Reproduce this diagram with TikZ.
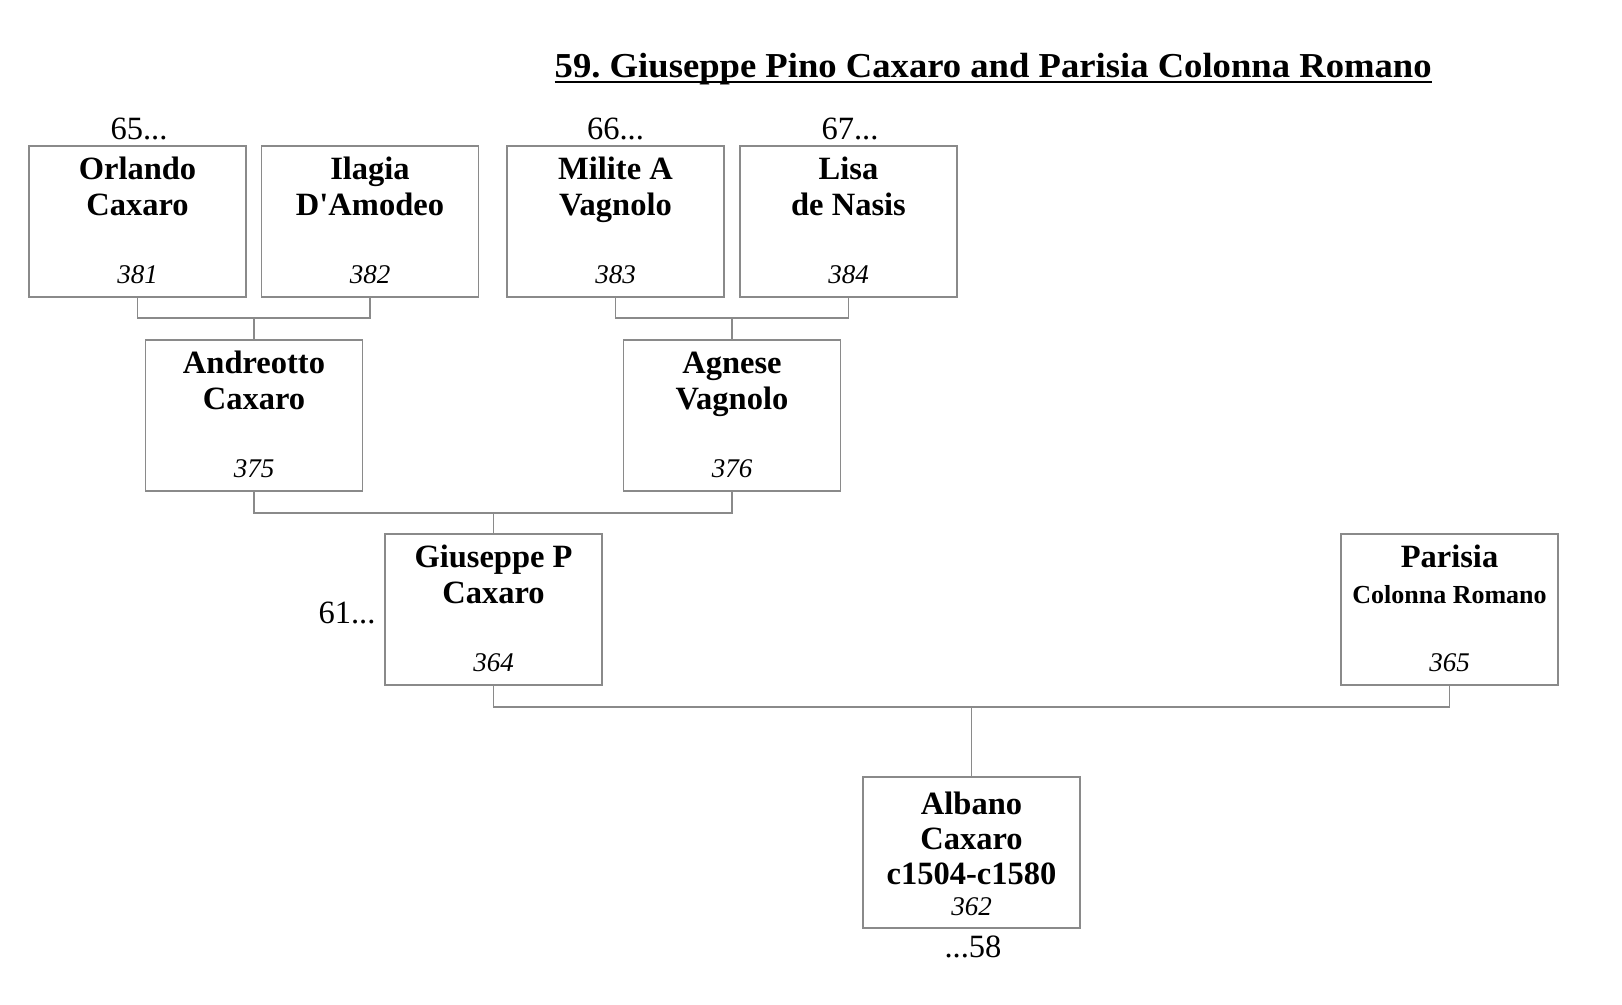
\documentclass[tikz,border=0pt]{standalone}
\usepackage{fontspec}
\usepackage{graphicx}
\setmainfont{Liberation Serif}
\usetikzlibrary{calc}
\definecolor{ln}{RGB}{138,138,138}
\newsavebox\ttlbox
\newlength\ttlwd
\newcommand\ttltext{\frenchspacing\fontsize{35}{40}\selectfont\bfseries 59. Giuseppe Pino Caxaro and Parisia Colonna Romano}
\AtBeginDocument{%
  \sbox\ttlbox{\ttltext}%
  \global\ttlwd=\wd\ttlbox
}
\newcommand\personbox[6]{%
  \node[pbox] (#1) at (#2,#3+75.5) {};
  \node[nm] at ($(#1.north)+(0,34.5)$) {#4};
  \node[nm] at ($(#1.north)+(0,70.3)$) {#5};
  \node[numf] at ($(#1.north)+(0,138.3)$) {#6};
}
\tikzset{
  pbox/.style={draw=ln, line width=1.5pt, rectangle, minimum width=217pt, minimum height=151pt, inner sep=0pt},
  nm/.style={anchor=base, inner sep=0pt, font=\fontsize{32.5}{38}\selectfont\bfseries},
  numf/.style={anchor=base, inner sep=0pt, font=\fontsize{27}{32}\selectfont\itshape},
  ref/.style={anchor=base, inner sep=0pt, font=\fontsize{32.5}{38}\selectfont},
  conn/.style={draw=ln, line width=1.5pt},
}
\begin{document}
\begin{tikzpicture}[x=1pt,y=-1pt]
\useasboundingbox[fill=white] (0,0) rectangle (1622,1004);
\pgfmathsetmacro\tscale{877/\the\ttlwd}
\node[anchor=base west, inner sep=0pt] (title) at (554.5,77) {\scalebox{\tscale}[1]{\ttltext}};
\draw[line width=2pt] ($(title.base west)+(0,5)$) -- ($(title.base east)+(0,5)$);

% row 1
\personbox{orl}{137.5}{146}{Orlando}{Caxaro}{381}
\personbox{ila}{370}{146}{Ilagia}{D\textquotesingle Amodeo}{382}
\personbox{mil}{615.5}{146}{Milite A}{Vagnolo}{383}
\personbox{lis}{848.5}{146}{Lisa}{de Nasis}{384}
\node[ref] (r65) at (139,139) {65...};
\node[ref] (r66) at (615.5,139) {66...};
\node[ref] (r67) at (850,139) {67...};

% row 2
\personbox{and}{254}{340}{Andreotto}{Caxaro}{375}
\personbox{agn}{732}{340}{Agnese}{Vagnolo}{376}

% row 3
\personbox{giu}{493.5}{534}{Giuseppe P}{Caxaro}{364}
\personbox{par}{1449.5}{534}{Parisia}{\fontsize{26}{30}\selectfont Colonna Romano}{365}
\node[ref] (r61) at (347,623) {61...};

% child
\node[pbox] (alb) at (971.5,852.5) {};
\node[nm] at ($(alb.north)+(0,38)$) {Albano};
\node[nm] at ($(alb.north)+(0,73)$) {Caxaro};
\node[nm] at ($(alb.north)+(0,108)$) {c1504-c1580};
\node[numf] at ($(alb.north)+(0,139)$) {362};
\node[ref] (r58) at (973,957) {...58};

% connectors
\coordinate (j1) at (254,318);
\coordinate (j2) at (732,318);
\coordinate (j3) at (493.5,513);
\coordinate (j4) at (971.5,707);
\draw[conn] (orl.south) |- (j1) -| (ila.south);
\draw[conn] (j1) -- (and.north);
\draw[conn] (mil.south) |- (j2) -| (lis.south);
\draw[conn] (j2) -- (agn.north);
\draw[conn] (and.south) |- (j3) -| (agn.south);
\draw[conn] (j3) -- (giu.north);
\draw[conn] (giu.south) |- (j4) -| (par.south);
\draw[conn] (j4) -- (alb.north);
\end{tikzpicture}
\end{document}
